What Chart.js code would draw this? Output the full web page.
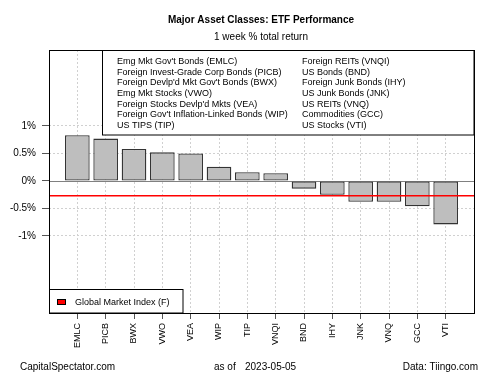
<!DOCTYPE html>
<html>
<head>
<meta charset="utf-8">
<script src="https://cdn.jsdelivr.net/npm/chart.js@4.4.0/dist/chart.umd.min.js"></script>
<style>html,body{margin:0;padding:0;background:#fff}</style>
</head>
<body>
<canvas id="chart" width="500" height="375"></canvas>
<script>
const tickers = ['EMLC', 'PICB', 'BWX', 'VWO', 'VEA', 'WIP', 'TIP', 'VNQI', 'BND', 'IHY', 'JNK', 'VNQ', 'GCC', 'VTI'];
const returns = [0.83, 0.77, 0.58, 0.52, 0.50, 0.26, 0.16, 0.14, -0.14, -0.25, -0.38, -0.38, -0.46, -0.79];
const yTicks = [-1, -0.5, 0, 0.5, 1];
const gmiReturn = -0.27;
const legendLeft = [
    'Emg Mkt Gov\'t Bonds (EMLC)',
    'Foreign Invest-Grade Corp Bonds (PICB)',
    'Foreign Devlp\'d Mkt Gov\'t Bonds (BWX)',
    'Emg Mkt Stocks (VWO)',
    'Foreign Stocks Devlp\'d Mkts (VEA)',
    'Foreign Gov\'t Inflation-Linked Bonds (WIP)',
    'US TIPS (TIP)'
];
const legendRight = [
    'Foreign REITs (VNQI)',
    'US Bonds (BND)',
    'Foreign Junk Bonds (IHY)',
    'US Junk Bonds (JNK)',
    'US REITs (VNQ)',
    'Commodities (GCC)',
    'US Stocks (VTI)'
];

const FONT = '"Liberation Sans", Arial, sans-serif';
Chart.defaults.font.family = FONT;
Chart.defaults.color = '#000';

const decorations = {
    id: 'decorations',
    beforeDatasetsDraw(chart) {
        const { ctx, chartArea: a, scales: { y } } = chart;
        const y0 = Math.round(y.getPixelForValue(0)) + 0.5;
        ctx.save();
        ctx.strokeStyle = '#808080';
        ctx.lineWidth = 1;
        ctx.beginPath();
        ctx.moveTo(a.left, y0);
        ctx.lineTo(a.right, y0);
        ctx.stroke();
        ctx.restore();
    },
    afterDatasetsDraw(chart) {
        const { ctx, chartArea: a, scales: { y } } = chart;
        const yg = y.getPixelForValue(gmiReturn);
        ctx.save();
        ctx.strokeStyle = '#ff0000';
        ctx.lineWidth = 1.5;
        ctx.beginPath();
        ctx.moveTo(a.left, yg);
        ctx.lineTo(a.right, yg);
        ctx.stroke();
        ctx.restore();
    },
    afterDraw(chart) {
        const { ctx, chartArea: a } = chart;
        ctx.save();
        ctx.lineWidth = 1;
        ctx.strokeStyle = '#000';

        // top legend
        const lx = 102.5, ly = Math.round(a.top) + 0.5;
        ctx.fillStyle = '#fff';
        ctx.fillRect(lx, ly, a.right - lx, 135 - ly);
        ctx.strokeRect(lx, ly, a.right - lx, 135 - ly);
        ctx.fillStyle = '#000';
        ctx.font = '9px ' + FONT;
        ctx.textBaseline = 'middle';
        ctx.textAlign = 'left';
        legendLeft.forEach((t, i) => ctx.fillText(t, 117, 61.5 + i * 10.67));
        legendRight.forEach((t, i) => ctx.fillText(t, 302, 61.5 + i * 10.67));

        // bottom legend
        const bx = Math.round(a.left) + 0.5, by = 289.5;
        ctx.fillStyle = '#fff';
        ctx.fillRect(bx, by, 183 - bx, a.bottom - by);
        ctx.strokeRect(bx, by, 183 - bx, a.bottom - by);
        ctx.fillStyle = '#ff0000';
        ctx.fillRect(57.5, 299.5, 8, 5);
        ctx.strokeRect(57.5, 299.5, 8, 5);
        ctx.fillStyle = '#000';
        ctx.fillText('Global Market Index (F)', 75, 303);

        // plot frame
        ctx.strokeRect(Math.round(a.left) + 0.5, Math.round(a.top) + 0.5,
            Math.round(a.right - a.left), Math.round(a.bottom - a.top));

        // titles
        ctx.textAlign = 'center';
        ctx.font = 'bold 10px ' + FONT;
        ctx.fillText('Major Asset Classes: ETF Performance', 261, 20);
        ctx.font = '10px ' + FONT;
        ctx.fillText('1 week % total return', 261, 37);

        // footer
        ctx.textAlign = 'left';
        ctx.fillText('CapitalSpectator.com', 20, 367);
        ctx.fillText('as of', 214, 367);
        ctx.fillText('2023-05-05', 245, 367);
        ctx.textAlign = 'right';
        ctx.fillText('Data: Tiingo.com', 478, 367);
        ctx.restore();
    }
};

new Chart(document.getElementById('chart'), {
    type: 'bar',
    data: {
        datasets: [{
            data: returns.map((v, i) => ({ x: i, y: v })),
            backgroundColor: '#bebebe',
            borderColor: '#333',
            borderWidth: 1.3,
            borderSkipped: false,
            barPercentage: 0.87,
            categoryPercentage: 1
        }]
    },
    options: {
        responsive: false,
        animation: false,
        devicePixelRatio: 1,
        layout: { padding: { top: 50, right: 26, left: 0, bottom: 0 } },
        plugins: {
            legend: { display: false },
            tooltip: { enabled: false }
        },
        scales: {
            x: {
                type: 'linear',
                offset: false,
                min: -1,
                max: tickers.length,
                afterBuildTicks: (s) => { s.ticks = tickers.map((_, i) => ({ value: i })); },
                afterFit: (s) => { s.height = 62; },
                ticks: {
                    autoSkip: false,
                    minRotation: 90,
                    maxRotation: 90,
                    padding: 4,
                    font: { size: 9 },
                    callback: (v) => tickers[v]
                },
                grid: { offset: false, color: '#d0d0d0', tickColor: '#555', tickLength: 6 },
                border: { display: false, dash: [2, 2] }
            },
            y: {
                min: -2.4,
                max: 2.38,
                afterBuildTicks: (s) => { s.ticks = yTicks.map((v) => ({ value: v })); },
                afterFit: (s) => { s.width = 49; },
                ticks: {
                    padding: 6,
                    font: { size: 10 },
                    callback: (v) => v + '%'
                },
                grid: {
                    color: (c) => c.tick && c.tick.value === 0 ? 'rgba(0,0,0,0)' : '#d0d0d0',
                    tickColor: '#555',
                    tickLength: 7
                },
                border: { display: false, dash: [2, 2] }
            }
        }
    },
    plugins: [decorations]
});
</script>
</body>
</html>
